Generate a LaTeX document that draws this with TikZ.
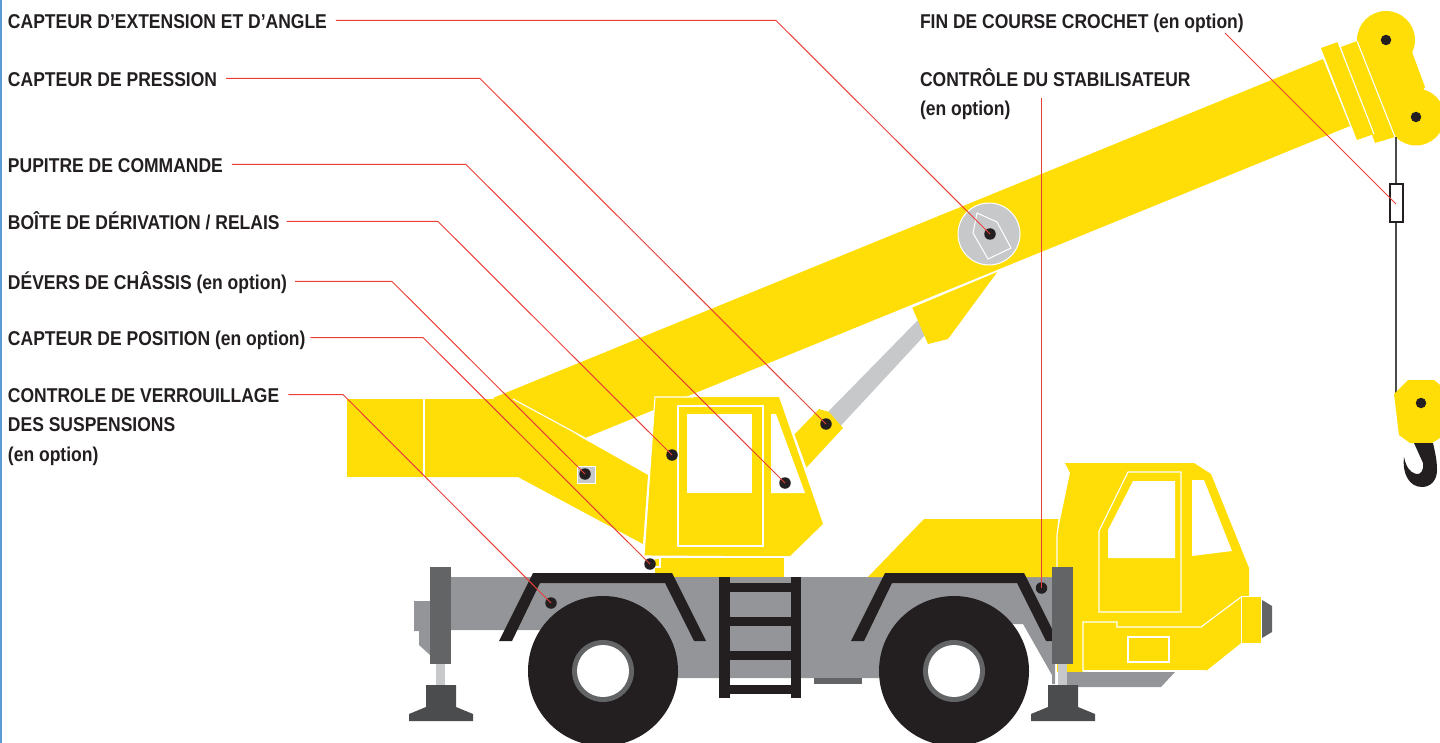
\documentclass[tikz,border=0pt]{standalone}
\usepackage{fontspec}
\setmainfont[FakeStretch=.875]{Liberation Sans}
\usepackage{tikz}
\usetikzlibrary{arrows.meta,positioning}
\definecolor{craneyellow}{HTML}{FFDD06}
\definecolor{chassisgrey}{HTML}{939598}
\definecolor{padgrey}{HTML}{636466}
\definecolor{palegrey}{HTML}{C7C8CA}
\definecolor{footgrey}{HTML}{4B4C4E}
\definecolor{inkblack}{HTML}{231F20}
\definecolor{leaderred}{HTML}{EA3F38}
\definecolor{edgeblue}{HTML}{5B9BD5}
\tikzset{
  labeltext/.style={anchor=west,inner sep=0pt,outer sep=0pt,text height=18pt,text depth=2pt,text=inkblack,font=\fontsize{20}{24}\selectfont\bfseries},
  sensordot/.style={circle,fill=inkblack,inner sep=0pt,minimum size=11.5pt},
  pindot/.style={circle,fill=inkblack,inner sep=0pt,minimum size=10.5pt},
  leader/.style={draw=leaderred,line width=1pt},
  yellowpart/.style={fill=craneyellow,draw=none},
  seam/.style={draw=white,line width=1.1pt}
}
\begin{document}
\begin{tikzpicture}[x=1pt,y=-1pt]
\useasboundingbox (0,0) rectangle (1440,743);
\fill[edgeblue] (0,0) rectangle (1.5,743);
\begin{scope}
\clip (0,0) rectangle (1440,743);
% boom and rear body
\fill[palegrey] (820,420) -- (918,320) -- (925,335) -- (835,432) -- cycle;
\fill[yellowpart] (912,307) -- (998,271) -- (948,339) -- (928,344) -- cycle;
\fill[yellowpart] (493,398) -- (1323,59) -- (1350,126) -- (585,438) -- cycle;
\fill[yellowpart] (347,399) rectangle (423,477);
\fill[yellowpart] (425,399) -- (513,399) -- (648,475) -- (643,544) -- (518,477) -- (425,477) -- cycle;
\draw[seam] (513,399) -- (585,438);
\draw[seam] (912,307) -- (998,271);
\fill[yellowpart] (794,435) -- (819,409) -- (829,412) -- (843,428) -- (806,468) -- cycle;
\draw[seam] (794,435) -- (806,468);
% boom head
\fill[yellowpart] (1321,48) -- (1338,42) -- (1374,134) -- (1357,140) -- cycle;
\fill[yellowpart] (1341,47) -- (1357,41) -- (1395,137) -- (1375,143) -- cycle;
\fill[yellowpart] (1386,40) circle (29);
\fill[yellowpart] (1416,117) circle (28.5);
\fill[yellowpart] (1357,41) -- (1412,52) -- (1425,87) -- (1395,137) -- cycle;
\draw[seam] (1357,41) -- (1395,137);
\draw[seam] (1338,42) -- (1374,134);
% pivot
\fill[palegrey,draw=white,line width=1pt] (989,234) circle (31);
\draw[white,line width=1pt] (977,213) -- (997,222) -- (1011,248) -- (988,259) -- (973,233) -- cycle;
% upper cab
\fill[yellowpart] (655,558) rectangle (784,577);
\fill[yellowpart] (655,397) -- (779,397) -- (823,524) -- (790,556) -- (644,556) -- cycle;
\draw[seam] (693,397) -- (655,397) -- (644,556) -- (790,557);
\draw[seam] (644,558) -- (660,558) -- (660,567) -- (655,567);
\draw[seam] (678,406) rectangle (763,546);
\fill[white] (687,414) rectangle (752,493);
\fill[white] (771,414) -- (776,414) -- (805,493) -- (771,493) -- cycle;
% chassis
\fill[chassisgrey] (414,601) -- (430,601) -- (430,655) -- (419,645) -- (419,631) -- (414,631) -- cycle;
\fill[chassisgrey] (451,577) -- (1055,577) -- (1055,684) -- (1052,684) -- (1052,675) -- (1023,624) -- (1000,624) -- (1000,678) -- (560,678) -- (560,630) -- (451,630) -- cycle;
\fill[chassisgrey] (1060,672) -- (1175,672) -- (1161,687) -- (1060,687) -- cycle;
\fill[padgrey] (814,678) rectangle (862,684);
% truck hood and cab
\fill[yellowpart] (868,577) -- (924,519) -- (1059,519) -- (1057,535) -- (1057,577) -- cycle;
\fill[yellowpart] (1065,463) -- (1194,463) -- (1211,474) -- (1249,568) -- (1249,597) -- (1241,597) -- (1241,643) -- (1206,671) -- (1057,672) -- (1057,535) -- (1070,473) -- cycle;
\draw[seam] (1059,519) -- (1057,535) -- (1057,567);
\draw[seam] (1128,472) -- (1181,472) -- (1181,612) -- (1099,612) -- (1099,531) -- cycle;
\fill[white] (1133,481) -- (1175,481) -- (1175,558) -- (1108,558) -- (1108,530) -- cycle;
\fill[white] (1192,480) -- (1204,480) -- (1232,551) -- (1192,556) -- cycle;
\draw[seam] (1083,671) -- (1083,622) -- (1117,622) -- (1117,627) -- (1201,627) -- (1241,597);
\draw[seam] (1083,671) -- (1206,671);
\draw[seam] (1128,637) rectangle (1169,662);
\fill[padgrey] (1262,600) -- (1272,606) -- (1272,632) -- (1262,638) -- cycle;
\fill[craneyellow,draw=white,line width=1pt] (1241,596) rectangle (1261,643);
% fenders, ladder, wheels
\foreach \dx in {0,352}
  \fill[inkblack,xshift=\dx] (533,573) -- (672,573) -- (706,641) -- (694,641) -- (665,583) -- (540,583) -- (512,641) -- (499,641) -- cycle;
\fill[inkblack] (719,577) rectangle (730,698);
\fill[inkblack] (791,577) rectangle (801,698);
\foreach \ry in {583,617,651,685}
  \fill[inkblack] (730,\ry) rectangle (791,\ry+9);
\foreach \wx/\wy in {603/671,954/671} {
  \fill[inkblack] (\wx,\wy) circle (75);
  \fill[padgrey] (\wx,\wy) circle (31);
  \fill[white] (\wx,\wy) circle (26);
}
% outriggers
\foreach \dx in {0,622} {
  \fill[footgrey,xshift=\dx] (426,685) -- (456,685) -- (456,707) -- (473,714) -- (473,721) -- (409,721) -- (409,714) -- (426,707) -- cycle;
  \fill[palegrey,xshift=\dx] (436,664) rectangle (445,685);
  \fill[padgrey,xshift=\dx] (430,567) rectangle (451,664);
}
% cable and hook
\draw[footgrey,line width=1.7pt] (1396,137) -- (1396,394);
\draw[inkblack,fill=white,line width=2pt] (1389.5,184) rectangle (1402.5,222);
\fill[yellowpart] (1394,394) -- (1408,380) -- (1434,380) -- (1440,385) -- (1440,438) -- (1432,443) -- (1410,443) -- (1399,435) -- cycle;
\fill[inkblack] (1414,443) -- (1433,443) .. controls (1435,452) and (1437,460) .. (1437,470) .. controls (1437,481) and (1430,487) .. (1422,487) .. controls (1410,487) and (1402,475) .. (1404,457) .. controls (1406,466) and (1409,472) .. (1416,474) .. controls (1421,475) and (1424,470) .. (1423,463) -- cycle;
\fill[palegrey,draw=white,line width=1pt] (577,466) rectangle (595,483);
\end{scope}
\node[pindot] (pinA) at (1386,40) {};
\node[pindot] (pinB) at (1416,117) {};
\node[pindot] (pinC) at (1421,403) {};
\node[sensordot] (dotA) at (990,234) {};
\node[sensordot] (dotB) at (826,424) {};
\node[sensordot] (dotC) at (785,483) {};
\node[sensordot] (dotD) at (672,455) {};
\node[sensordot] (dotE) at (585,474) {};
\node[sensordot] (dotF) at (650,564) {};
\node[sensordot] (dotG) at (551,603) {};
\node[sensordot] (dotI) at (1041.5,588) {};
\coordinate (dotH) at (1396,204);
\node[labeltext] (lblA) at (8,20.5) {CAPTEUR D’EXTENSION ET D’ANGLE};
\node[labeltext] (lblB) at (8,78.5) {CAPTEUR DE PRESSION};
\node[labeltext] (lblC) at (8,164.5) {PUPITRE DE COMMANDE};
\node[labeltext] (lblD) at (8,221.5) {BOÎTE DE DÉRIVATION / RELAIS};
\node[labeltext] (lblE) at (8,281.5) {DÉVERS DE CHÂSSIS (en option)};
\node[labeltext] (lblF) at (8,337.5) {CAPTEUR DE POSITION (en option)};
\node[labeltext] (lblG) at (8,394.5) {CONTROLE DE VERROUILLAGE};
\node[labeltext] (lblGb) at (8,423.5) {DES SUSPENSIONS};
\node[labeltext] (lblGc) at (8,453.5) {(en option)};
\node[labeltext] (lblH) at (920,20.5) {FIN DE COURSE CROCHET (en option)};
\node[labeltext] (lblI) at (920,78.5) {CONTRÔLE DU STABILISATEUR};
\node[labeltext] (lblIb) at (920,107.5) {(en option)};
\coordinate (kneeA) at (776,20.5);
\coordinate (kneeB) at (480,78.5);
\coordinate (kneeC) at (466,164.5);
\coordinate (kneeD) at (438,221.5);
\coordinate (kneeE) at (392,281.5);
\coordinate (kneeF) at (423,337.5);
\coordinate (kneeG) at (343,394.5);
\coordinate (leadH) at (1225,33);
\coordinate (leadI) at (1041.5,98);
\draw[leader,shorten <=9pt] (lblA) -- (kneeA) -- (dotA.center);
\draw[leader,shorten <=9pt] (lblB) -- (kneeB) -- (dotB.center);
\draw[leader,shorten <=9pt] (lblC) -- (kneeC) -- (dotC.center);
\draw[leader,shorten <=7pt] (lblD) -- (kneeD) -- (dotD.center);
\draw[leader,shorten <=8pt] (lblE) -- (kneeE) -- (dotE.center);
\draw[leader,shorten <=5pt] (lblF) -- (kneeF) -- (dotF.center);
\draw[leader,shorten <=9pt] (lblG) -- (kneeG) -- (dotG.center);
\draw[leader] (leadH) -- (dotH);
\draw[leader] (leadI) -- (dotI.center);
\end{tikzpicture}
\end{document}
